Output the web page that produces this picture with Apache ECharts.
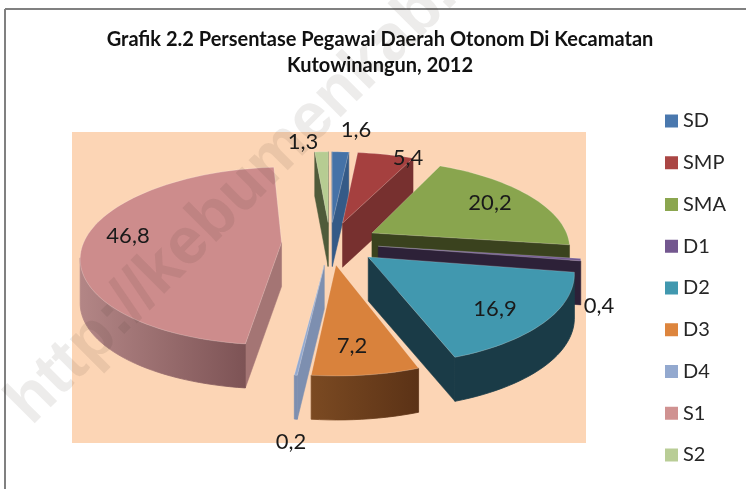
<!DOCTYPE html>
<html>
<head>
<meta charset="utf-8">
<style>html,body{margin:0;padding:0;background:#fff}#c{width:746px;height:489px}</style>
<script src="https://cdn.jsdelivr.net/npm/echarts@6/dist/echarts.min.js"></script>
</head>
<body>
<div id="c"></div>
<script>
// Data
const categories = ['SD','SMP','SMA','D1','D2','D3','D4','S1','S2'];
const values = [1.6,5.4,20.2,0.4,16.9,7.2,0.2,46.8,1.3];
const titleLines = ['Grafik 2.2 Persentase Pegawai Daerah Otonom Di Kecamatan','Kutowinangun, 2012'];

// Styles
const topColors  = ['#4572a7','#a5403f','#89a54e','#71588f','#4198af','#d9823c','#93a9cf','#cd8c8c','#b6cc92'];
const cutColors  = ['#345a87','#77302f','#3a421e','#2d2138','#1a3b47','#6b3f1d','#7d8fb0','#a47574','#4f5b3a'];
const rimFrom    = ['#345a87','#77302f','#3a421e','#2d2138','#1a3b47','#7b4a22','#7d8fb0','#b38686','#4f5b3a'];
const rimTo      = ['#345a87','#77302f','#3a421e','#2d2138','#1a3b47','#5b3216','#7d8fb0','#7d5355','#4f5b3a'];
const legendColors = ['#4a78ae','#aa4644','#8ba64f','#73578f','#4198af','#dd853d','#93a9cf','#d09291','#b9cd96'];
const labelPos = [[356,130],[408,158],[490,203],[599,306],[495,309],[352,346],[291,442],[128,236],[303,142]];
const drawOrder = [1,2,3,4,5,6,7,0,0];  // painter's order (S1, S2 at the back)

// 3D pie projection parameters
const view = {cx:330, cy:243, r:198, q:87, p:0.15, explode:0.245, depth:44};
const project = (a,b) => {
  const s = 1/(1+view.p*b);
  return [view.cx+view.r*a*s, view.cy-view.q*b*s];
};
const rad = d => d*Math.PI/180;
const total = values.reduce((x,y)=>x+y,0);
const starts = []; values.reduce((acc,v,i)=>{starts[i]=acc;return acc+v;},0);

function sliceChildren(i){
  const t0 = starts[i]/total*360, t1 = (starts[i]+values[i])/total*360, mid=(t0+t1)/2;
  const ax = view.explode*Math.sin(rad(mid)), ay = view.explode*Math.cos(rad(mid));
  const apex = project(ax,ay);
  const n = Math.max(2,Math.ceil((t1-t0)/2));
  const rim = [];
  for(let k=0;k<=n;k++){
    const t=t0+(t1-t0)*k/n;
    rim.push(project(ax+Math.sin(rad(t)),ay+Math.cos(rad(t))));
  }
  const down = p => [p[0],p[1]+view.depth];
  const kids = [];
  const quad = (p,q) => kids.push({type:'polygon',shape:{points:[p,q,down(q),down(p)]},
    style:{fill:cutColors[i],stroke:cutColors[i],lineWidth:0.5}});
  if(rim[0][0]<apex[0]) quad(apex,rim[0]);
  if(apex[0]<rim[n][0]) quad(rim[n],apex);
  let run=[];
  const flush=()=>{
    if(run.length>1){
      const pts=run.concat(run.slice().reverse().map(down));
      const grad=()=>new echarts.graphic.LinearGradient(0,0,1,0,[{offset:0,color:rimFrom[i]},{offset:1,color:rimTo[i]}]);
      kids.push({type:'polygon',shape:{points:pts},style:{fill:grad(),stroke:grad(),lineWidth:0.8}});
    }
    run=[];
  };
  for(let k=0;k<n;k++){
    if(rim[k+1][0]<rim[k][0]){ if(!run.length) run.push(rim[k]); run.push(rim[k+1]); }
    else flush();
  }
  flush();
  kids.push({type:'polygon',shape:{points:[apex].concat(rim)},
    style:{fill:topColors[i],stroke:'rgba(255,255,255,0.25)',lineWidth:0.8}});
  kids.push({type:'text',z2:50,style:{text:values[i].toFixed(1).replace('.',','),x:labelPos[i][0],y:labelPos[i][1],
    align:'center',verticalAlign:'middle',fill:'#1a1a1a',font:'22px Lato'}});
  return {type:'group',children:kids};
}

const chart = echarts.init(document.getElementById('c'),null,{renderer:'canvas'});
chart.setOption({
  animation:false,
  backgroundColor:'#fff',
  title:[
    {text:titleLines[0],left:375,top:25,textAlign:'center',textStyle:{fontFamily:'Lato',fontWeight:'bold',fontSize:20,color:'#111'}},
    {text:titleLines[1],left:375,top:51,textAlign:'center',textStyle:{fontFamily:'Lato',fontWeight:'bold',fontSize:20,color:'#111'}}
  ],
  legend:{
    orient:'vertical',left:660,top:106,itemWidth:13,itemHeight:13,itemGap:21.75,
    icon:'rect',data:categories,selectedMode:false,
    textStyle:{fontFamily:'Lato',fontSize:20,color:'#262626'}
  },
  graphic:{elements:[
    {type:'rect',z:0,shape:{x:72,y:132,width:514,height:311},style:{fill:'#fcd5b5'}},
    {type:'line',z:1,shape:{x1:5,y1:9,x2:746,y2:9},style:{stroke:'#808080',lineWidth:2}},
    {type:'line',z:1,shape:{x1:5,y1:9,x2:5,y2:489},style:{stroke:'#808080',lineWidth:2}},
    {type:'text',z:100,x:42,y:437,rotation:Math.PI/4,silent:true,
      style:{text:'http://kebumenkab.bps.go.id',font:'bold 66px "Liberation Sans"',fill:'rgba(60,40,30,0.09)',align:'left',verticalAlign:'bottom'}}
  ]},
  series:categories.map((name,i)=>({
    type:'custom',name,coordinateSystem:'none',z:2+drawOrder[i],
    itemStyle:{color:legendColors[i]},
    data:[values[i]],
    renderItem:()=>sliceChildren(i)
  }))
});
</script>
</body>
</html>
